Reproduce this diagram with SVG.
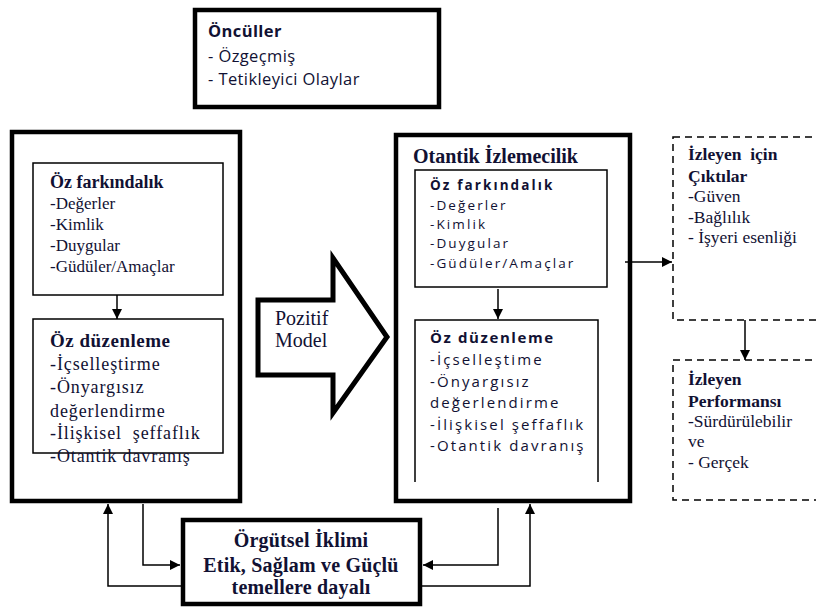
<svg xmlns="http://www.w3.org/2000/svg" width="816" height="607" viewBox="0 0 816 607">
<defs>
<marker id="ah" viewBox="0 0 10 10" refX="10" refY="5" markerWidth="10" markerHeight="10" markerUnits="userSpaceOnUse" orient="auto">
<path d="M0,0 L10,5 L0,10 z" fill="#000"/>
</marker>
</defs>
<style>
.thick{fill:#fff;stroke:#000;stroke-width:4.5}
.thin{fill:#fff;stroke:#000;stroke-width:1.5}
.dash{fill:#fff;stroke:#000;stroke-width:1.5;stroke-dasharray:7,5}
.conn{fill:none;stroke:#000;stroke-width:1.5}
</style>
<rect width="816" height="607" fill="#fff"/>
<g id="onculler">
<rect class="thick" x="195" y="10" width="244" height="97"/>
<text font-family="'Open Sans','Liberation Sans',sans-serif" fill="#111133" font-size="16.5" letter-spacing="0.4" font-weight="bold" x="208" y="37">Öncüller</text>
<text font-family="'Open Sans','Liberation Sans',sans-serif" fill="#111133" font-size="16.5" letter-spacing="0.4"><tspan x="208" y="62">- Özgeçmiş</tspan><tspan x="208" y="85">- Tetikleyici Olaylar</tspan></text>
</g>
<g id="lider">
<rect class="thick" x="12" y="132" width="228" height="369"/>
<g id="lider-farkindalik">
<rect class="thin" x="33" y="163" width="190" height="132"/>
<text font-family="'Liberation Serif','Times New Roman',serif" fill="#111133" font-weight="bold" x="50" y="188" font-size="18">Öz farkındalık</text>
<text font-family="'Liberation Serif','Times New Roman',serif" fill="#111133" font-size="17"><tspan x="50" y="209">-Değerler</tspan><tspan x="50" y="230">-Kimlik</tspan><tspan x="50" y="251">-Duygular</tspan><tspan x="50" y="272">-Güdüler/Amaçlar</tspan></text>
</g>
<g id="lider-duzenleme">
<rect class="thin" x="33" y="319" width="190" height="134"/>
<text font-family="'Liberation Serif','Times New Roman',serif" fill="#111133" font-weight="bold" x="50" y="347" font-size="19" letter-spacing="0.5">Öz düzenleme</text>
<text font-family="'Liberation Serif','Times New Roman',serif" fill="#111133" font-size="18" letter-spacing="0.9"><tspan x="50" y="370">-İçselleştirme</tspan><tspan x="50" y="393">-Önyargısız</tspan><tspan x="50" y="417">değerlendirme</tspan><tspan x="50" y="439" xml:space="preserve">-İlişkisel  şeffaflık</tspan><tspan x="50" y="462">-Otantik davranış</tspan></text>
</g>
</g>
<g id="pozitif-model">
<path d="M258,300 L333,300 L333,258 L387,337 L333,413 L333,375 L258,375 Z" fill="#fff" stroke="#000" stroke-width="5" stroke-linejoin="miter"/>
<text font-family="'Liberation Serif','Times New Roman',serif" fill="#111133" font-size="20"><tspan x="275" y="325">Pozitif</tspan><tspan x="275" y="347">Model</tspan></text>
</g>
<g id="izlemecilik">
<rect class="thick" x="396" y="135" width="234" height="366"/>
<text font-family="'Liberation Serif','Times New Roman',serif" fill="#111133" font-weight="bold" font-size="20" x="413" y="163">Otantik İzlemecilik</text>
<g id="izl-farkindalik">
<rect class="thin" x="415" y="170" width="192" height="117"/>
<text font-family="'Open Sans','Liberation Sans',sans-serif" fill="#111133" font-size="13.5" letter-spacing="2.1" font-weight="bold" x="430" y="190">Öz farkındalık</text>
<text font-family="'Open Sans','Liberation Sans',sans-serif" fill="#111133" font-size="13.5" letter-spacing="2.1"><tspan x="430" y="210">-Değerler</tspan><tspan x="430" y="229">-Kimlik</tspan><tspan x="430" y="248">-Duygular</tspan><tspan x="430" y="268">-Güdüler/Amaçlar</tspan></text>
</g>
<g id="izl-duzenleme">
<path class="thin" d="M415,482 L415,320 L598,320 L598,482" fill="none"/>
<text font-family="'Open Sans','Liberation Sans',sans-serif" fill="#111133" font-size="15" font-weight="bold" x="430" y="343" letter-spacing="1.6">Öz düzenleme</text>
<text font-family="'Open Sans','Liberation Sans',sans-serif" fill="#111133" font-size="15" letter-spacing="2.1"><tspan x="430" y="365">-İçselleştime</tspan><tspan x="430" y="387">-Önyargısız</tspan><tspan x="430" y="408">değerlendirme</tspan><tspan x="430" y="430">-İlişkisel şeffaflık</tspan><tspan x="430" y="451">-Otantik davranış</tspan></text>
</g>
</g>
<g id="ciktilar">
<rect class="dash" x="673" y="137" width="160" height="183"/>
<text font-family="'Liberation Serif','Times New Roman',serif" fill="#111133" font-size="17.5" font-weight="bold"><tspan x="688" y="160" xml:space="preserve">İzleyen  için</tspan><tspan x="688" y="182">Çıktılar</tspan></text>
<text font-family="'Liberation Serif','Times New Roman',serif" fill="#111133" font-size="17.5"><tspan x="688" y="202">-Güven</tspan><tspan x="688" y="223">-Bağlılık</tspan><tspan x="688" y="243">- İşyeri esenliği</tspan></text>
</g>
<g id="performans">
<rect class="dash" x="673" y="360" width="160" height="140"/>
<text font-family="'Liberation Serif','Times New Roman',serif" fill="#111133" font-size="17.5" font-weight="bold"><tspan x="688" y="385">İzleyen</tspan><tspan x="688" y="407">Performansı</tspan></text>
<text font-family="'Liberation Serif','Times New Roman',serif" fill="#111133" font-size="17.5"><tspan x="688" y="427">-Sürdürülebilir</tspan><tspan x="688" y="447">ve</tspan><tspan x="688" y="468">- Gerçek</tspan></text>
</g>
<g id="iklim">
<rect class="thick" x="183" y="520" width="237" height="84"/>
<text font-family="'Liberation Serif','Times New Roman',serif" fill="#111133" font-weight="bold" font-size="20" letter-spacing="0.2" text-anchor="middle"><tspan x="301" y="547">Örgütsel İklimi</tspan><tspan x="301" y="572">Etik, Sağlam ve Güçlü</tspan><tspan x="301" y="594">temellere dayalı</tspan></text>
</g>
<g id="connectors">
<line class="conn" x1="117" y1="295" x2="117" y2="319" marker-end="url(#ah)"/>
<line class="conn" x1="498" y1="289" x2="498" y2="319" marker-end="url(#ah)"/>
<line class="conn" x1="625" y1="262" x2="672" y2="262" marker-end="url(#ah)"/>
<line class="conn" x1="745" y1="320" x2="745" y2="360" marker-end="url(#ah)"/>
<polyline class="conn" points="181,586 108,586 108,504" marker-end="url(#ah)"/>
<polyline class="conn" points="143,504 143,565 180,565" marker-end="url(#ah)"/>
<polyline class="conn" points="498,508 498,565 423,565" marker-end="url(#ah)"/>
<polyline class="conn" points="422,586 530,586 530,504" marker-end="url(#ah)"/>
</g>
</svg>
